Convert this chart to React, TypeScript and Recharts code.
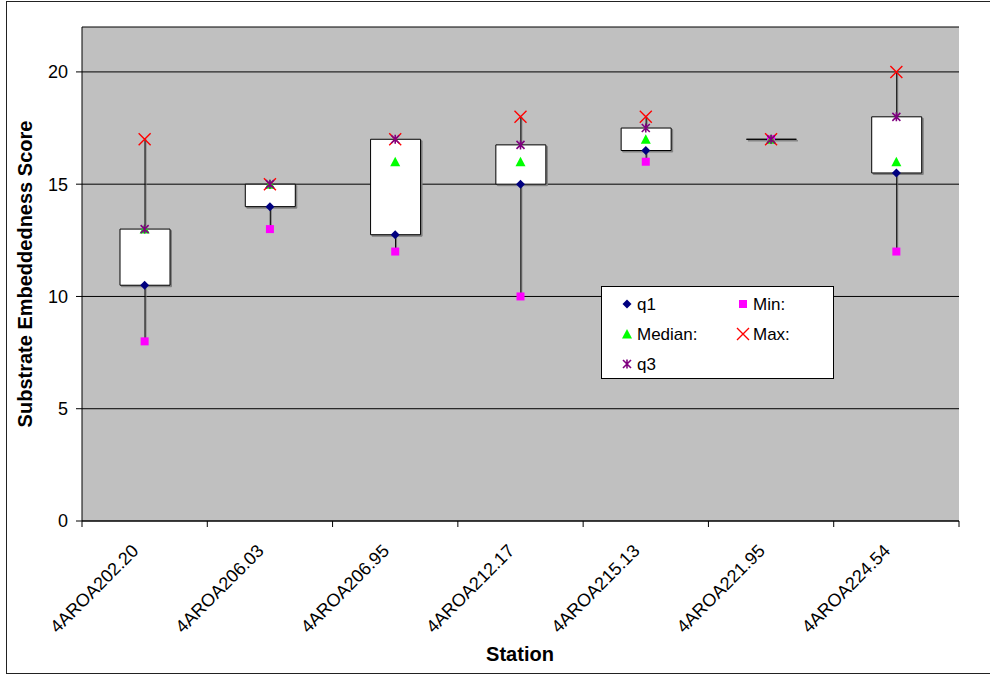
import { ComposedChart, Bar, Line, XAxis, YAxis, CartesianGrid, Legend, Label } from 'recharts';

const stations = [
  '4AROA202.20',
  '4AROA206.03',
  '4AROA206.95',
  '4AROA212.17',
  '4AROA215.13',
  '4AROA221.95',
  '4AROA224.54',
];
const minVals = [8, 13, 12, 10, 16, 17, 12];
const q1Vals = [10.5, 14, 12.75, 15, 16.5, 17, 15.5];
const medianVals = [13, 15, 16, 16, 17, 17, 16];
const q3Vals = [13, 15, 17, 16.75, 17.5, 17, 18];
const maxVals = [17, 15, 17, 18, 18, 17, 20];
const yTicks = [0, 5, 10, 15, 20];

const data = stations.map((station, i) => ({
  station,
  min: minVals[i],
  q1: q1Vals[i],
  median: medianVals[i],
  q3: q3Vals[i],
  max: maxVals[i],
  whisker: [minVals[i], maxVals[i]],
  box: [q1Vals[i], q3Vals[i]],
}));

const FONT = '"Liberation Sans", Arial, sans-serif';
const BAND = 877 / 7;

const COLORS = {
  q1: '#000080',
  min: '#FF00FF',
  median: '#00FF00',
  max: '#FF0000',
  q3: '#800080',
};

// marker glyphs, shared by chart and legend
const Diamond = ({ cx, cy }: { cx: number; cy: number }) => (
  <path d={`M${cx},${cy - 4.5}L${cx + 4.5},${cy}L${cx},${cy + 4.5}L${cx - 4.5},${cy}Z`} fill={COLORS.q1} />
);
const Square = ({ cx, cy }: { cx: number; cy: number }) => (
  <rect x={cx - 4} y={cy - 4} width={8} height={8} fill={COLORS.min} />
);
const Triangle = ({ cx, cy }: { cx: number; cy: number }) => (
  <path d={`M${cx},${cy - 5}L${cx + 5},${cy + 4.5}L${cx - 5},${cy + 4.5}Z`} fill={COLORS.median} />
);
const Cross = ({ cx, cy }: { cx: number; cy: number }) => (
  <path d={`M${cx - 6},${cy - 6}L${cx + 6},${cy + 6}M${cx + 6},${cy - 6}L${cx - 6},${cy + 6}`} stroke={COLORS.max} strokeWidth={1.4} />
);
const Star = ({ cx, cy }: { cx: number; cy: number }) => (
  <path
    d={`M${cx - 4},${cy - 4}L${cx + 4},${cy + 4}M${cx + 4},${cy - 4}L${cx - 4},${cy + 4}M${cx},${cy - 4.5}L${cx},${cy + 4.5}`}
    stroke={COLORS.q3}
    strokeWidth={1.6}
  />
);

const dotOf = (Glyph: any) => (p: any) =>
  p.cx == null || p.cy == null ? <g key={p.key} /> : <Glyph key={p.key} cx={p.cx} cy={p.cy} />;

const WhiskerShape = (props: any) => {
  const { x, y, width, height } = props;
  const cx = x + width / 2;
  const top = Math.min(y, y + height);
  const bottom = Math.max(y, y + height);
  return (
    <g>
      <line x1={cx + 1} y1={top} x2={cx + 1} y2={bottom} stroke="#808080" />
      <line x1={cx} y1={top} x2={cx} y2={bottom} stroke="#000" />
    </g>
  );
};

const BoxShape = (props: any) => {
  const { x, y, width, height } = props;
  const top = Math.min(y, y + height);
  const h = Math.abs(height);
  const d = (ox: number) => `M${x + ox},${top + ox}h${width}v${h}h${-width}Z`;
  return (
    <g>
      <path d={d(1.5)} fill="#808080" stroke="#808080" />
      <path d={d(0)} fill="#FFFFFF" stroke="#000" />
    </g>
  );
};

const StationTick = (props: any) => {
  const { x, y, payload, index } = props;
  const tx = x - 5;
  const ty = y + 31;
  return (
    <g>
      <line x1={x - BAND / 2} y1={y} x2={x - BAND / 2} y2={y + 6} stroke="#000" />
      {index === stations.length - 1 && (
        <line x1={x + BAND / 2} y1={y} x2={x + BAND / 2} y2={y + 6} stroke="#000" />
      )}
      <text
        x={tx}
        y={ty}
        transform={`rotate(-45, ${tx}, ${ty})`}
        textAnchor="end"
        fontSize={18}
        fontFamily={FONT}
        fill="#000"
      >
        {payload.value}
      </text>
    </g>
  );
};

const legendItems = [
  { label: 'q1', Glyph: Diamond, col: 0, row: 0 },
  { label: 'Min:', Glyph: Square, col: 1, row: 0 },
  { label: 'Median:', Glyph: Triangle, col: 0, row: 1 },
  { label: 'Max:', Glyph: Cross, col: 1, row: 1 },
  { label: 'q3', Glyph: Star, col: 0, row: 2 },
];

const BoxLegend = () => (
  <svg width={234} height={94} style={{ display: 'block' }}>
    <rect x={0.5} y={0.5} width={232} height={92} fill="#FFFFFF" stroke="#000" />
    {legendItems.map(({ label, Glyph, col, row }) => {
      const mx = col === 0 ? 26 : 142;
      const my = 18 + row * 30;
      return (
        <g key={label}>
          <Glyph cx={mx} cy={my} />
          <text x={mx + 10} y={my} dy="0.36em" fontSize={17} fontFamily={FONT} fill="#000">
            {label}
          </text>
        </g>
      );
    })}
  </svg>
);

export default function App() {
  return (
    <div style={{ position: 'fixed', left: 0, top: 0, width: 990, height: 675, overflow: 'hidden', background: '#fff' }}>
      <div
        style={{
          position: 'absolute',
          left: 6,
          top: 1,
          width: 1000,
          height: 671,
          border: '1px solid #222',
        }}
      />
      <div style={{ position: 'absolute', left: 0, top: 0 }}>
        <ComposedChart width={990} height={675} data={data} margin={{ top: 27, right: 31, bottom: 0, left: 0 }}>
          <CartesianGrid vertical={false} stroke="#000" fill="#C0C0C0" fillOpacity={1} />
          <XAxis
            xAxisId="main"
            dataKey="station"
            interval={0}
            height={154}
            tickLine={false}
            tickSize={0}
            tickMargin={0}
            axisLine={{ stroke: '#000' }}
            tick={<StationTick />}
          >
            <Label
              content={() => (
                <text x={520} y={654} textAnchor="middle" dy="0.36em" fontSize={20} fontWeight="bold" fontFamily={FONT}>
                  Station
                </text>
              )}
            />
          </XAxis>
          <XAxis
            xAxisId="w"
            dataKey="station"
            orientation="top"
            height={0}
            tick={false}
            tickLine={false}
            axisLine={{ stroke: '#808080' }}
          />
          <YAxis
            domain={[0, 22]}
            ticks={yTicks}
            width={82}
            tickSize={6}
            tickMargin={8}
            tickLine={{ stroke: '#000' }}
            axisLine={{ stroke: '#000' }}
            tick={{ fontSize: 18, fontFamily: FONT, fill: '#000' }}
          >
            <Label
              content={() => (
                <text
                  x={25}
                  y={274}
                  transform="rotate(-90, 25, 274)"
                  textAnchor="middle"
                  dy="0.36em"
                  fontSize={20}
                  fontWeight="bold"
                  fontFamily={FONT}
                >
                  Substrate Embeddedness Score
                </text>
              )}
            />
          </YAxis>
          <YAxis
            yAxisId="r"
            orientation="right"
            domain={[0, 22]}
            width={0}
            tick={false}
            tickLine={false}
            axisLine={{ stroke: '#808080' }}
          />
          <Bar xAxisId="w" dataKey="whisker" barSize={50} shape={<WhiskerShape />} isAnimationActive={false} />
          <Bar xAxisId="main" dataKey="box" barSize={50} shape={<BoxShape />} isAnimationActive={false} />
          <Line xAxisId="main" dataKey="q1" stroke="none" dot={dotOf(Diamond)} activeDot={false} isAnimationActive={false} />
          <Line xAxisId="main" dataKey="min" stroke="none" dot={dotOf(Square)} activeDot={false} isAnimationActive={false} />
          <Line xAxisId="main" dataKey="median" stroke="none" dot={dotOf(Triangle)} activeDot={false} isAnimationActive={false} />
          <Line xAxisId="main" dataKey="max" stroke="none" dot={dotOf(Cross)} activeDot={false} isAnimationActive={false} />
          <Line xAxisId="main" dataKey="q3" stroke="none" dot={dotOf(Star)} activeDot={false} isAnimationActive={false} />
          <Legend
            layout="vertical"
            align="center"
            verticalAlign="middle"
            wrapperStyle={{ left: 601, top: 286, width: 234, height: 94 }}
            content={() => <BoxLegend />}
          />
        </ComposedChart>
      </div>
    </div>
  );
}
